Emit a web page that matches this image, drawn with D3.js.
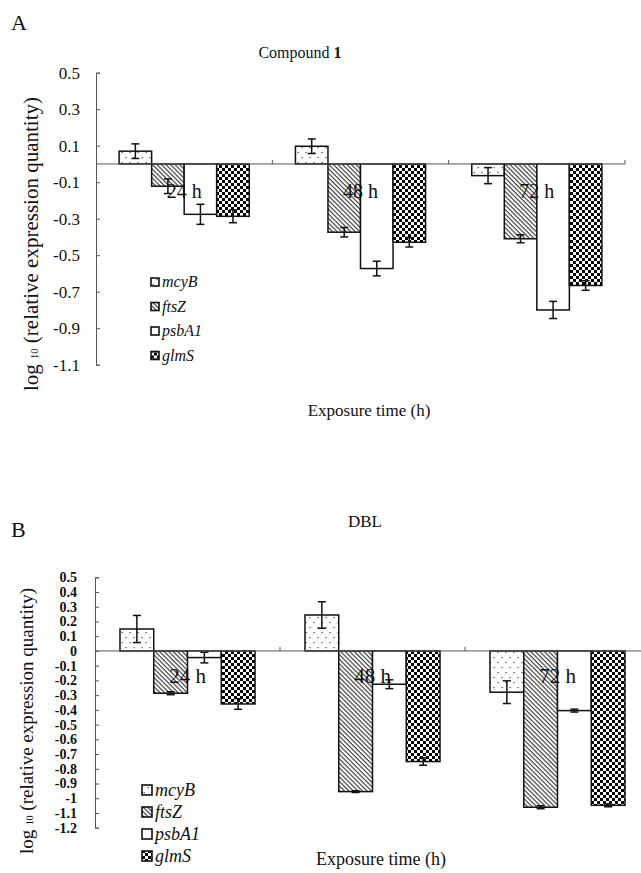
<!DOCTYPE html>
<html>
<head>
<meta charset="utf-8">
<script src="https://cdn.jsdelivr.net/npm/d3@7"></script>
<style>
  body { margin: 0; background: #fff; }
  text { font-family: "Liberation Serif", "Times New Roman", serif; fill: #111; }
</style>
</head>
<body>
<div id="chart"></div>
<script>
// categories
const genes = ["mcyB", "ftsZ", "psbA1", "glmS"];
const times = ["24 h", "48 h", "72 h"];

// Compound 1 : rows = genes, columns = times
const compoundMean = [
    [0.07, 0.097, -0.064],
    [-0.122, -0.374, -0.41],
    [-0.276, -0.573, -0.80],
    [-0.287, -0.429, -0.666]
];
const compoundErr = [
    [0.04, 0.04, 0.044],
    [0.04, 0.026, 0.022],
    [0.055, 0.04, 0.047],
    [0.035, 0.026, 0.026]
];

// DBL
const dblMean = [
    [0.149, 0.244, -0.28],
    [-0.287, -0.955, -1.061],
    [-0.045, -0.226, -0.405],
    [-0.36, -0.751, -1.048]
];
const dblErr = [
    [0.092, 0.09, 0.077],
    [0.01, 0.006, 0.01],
    [0.036, 0.03, 0.01],
    [0.036, 0.025, 0.01]
];

// tick labels
const ticksA = [0.5, 0.3, 0.1, -0.1, -0.3, -0.5, -0.7, -0.9, -1.1];
const ticksB = [0.5, 0.4, 0.3, 0.2, 0.1, 0, -0.1, -0.2, -0.3, -0.4, -0.5, -0.6,
    -0.7, -0.8, -0.9, -1, -1.1, -1.2];

const W = 641, H = 873;
const svg = d3.select("#chart").append("svg")
    .attr("width", W)
    .attr("height", H);
svg.append("rect").attr("width", W).attr("height", H).attr("fill", "#fff");

// PATTERNS
const defs = svg.append("defs");

const dots = defs.append("pattern")
    .attr("id", "pat-mcyB")
    .attr("patternUnits", "userSpaceOnUse")
    .attr("width", 8).attr("height", 10);
dots.append("rect").attr("width", 8).attr("height", 10).attr("fill", "#fff");
dots.append("rect").attr("x", 1.5).attr("y", 2).attr("width", 1.2).attr("height", 1.2).attr("fill", "#444");
dots.append("rect").attr("x", 5.5).attr("y", 7).attr("width", 1.2).attr("height", 1.2).attr("fill", "#444");

const hatch = defs.append("pattern")
    .attr("id", "pat-ftsZ")
    .attr("patternUnits", "userSpaceOnUse")
    .attr("width", 3.2).attr("height", 3.2)
    .attr("patternTransform", "rotate(-45)");
hatch.append("rect").attr("width", 3.2).attr("height", 3.2).attr("fill", "#fff");
hatch.append("line").attr("x1", 1).attr("x2", 1).attr("y1", 0).attr("y2", 3.2)
    .attr("stroke", "#333").attr("stroke-width", 1.1);

const plain = defs.append("pattern")
    .attr("id", "pat-psbA1")
    .attr("patternUnits", "userSpaceOnUse")
    .attr("width", 4).attr("height", 4);
plain.append("rect").attr("width", 4).attr("height", 4).attr("fill", "#fff");

const checker = defs.append("pattern")
    .attr("id", "pat-glmS")
    .attr("patternUnits", "userSpaceOnUse")
    .attr("width", 6).attr("height", 6);
checker.append("rect").attr("width", 6).attr("height", 6).attr("fill", "#fff");
checker.append("rect").attr("width", 3).attr("height", 3).attr("fill", "#000");
checker.append("rect").attr("x", 3).attr("y", 3).attr("width", 3).attr("height", 3).attr("fill", "#000");

function fmt(d) {
    return String(Math.round(d * 10) / 10);
}

function drawPanel(p) {
    const g = svg.append("g");

    const y = d3.scaleLinear().domain(p.yDomain).range(p.yRange);
    const x0 = d3.scaleBand().domain(times).range(p.xRange).paddingInner(0).paddingOuter(0);
    const x1 = d3.scaleBand().domain(genes).range([0, x0.bandwidth()])
        .paddingInner(0).paddingOuter(p.groupPad);

    // letter + title
    g.append("text").text(p.letter)
        .attr("x", 11).attr("y", p.letterY)
        .style("font-size", "22px");
    const title = g.append("text").text(p.title)
        .attr("x", p.titleX).attr("y", p.titleY)
        .attr("text-anchor", "middle")
        .style("font-size", p.titleSize + "px");
    if (p.titleBold) {
        title.append("tspan").text(p.titleBold).style("font-weight", "bold");
    }

    // BARS
    const rows = [];
    genes.forEach((gene, gi) => {
        times.forEach((t, ti) => {
            rows.push({ gene: gene, time: t, v: p.mean[gi][ti], e: p.err[gi][ti] });
        });
    });

    g.selectAll(".bar").data(rows).enter()
        .append("rect")
        .attr("class", "bar")
        .attr("x", d => x0(d.time) + x1(d.gene))
        .attr("y", d => y(Math.max(0, d.v)))
        .attr("width", x1.bandwidth())
        .attr("height", d => Math.abs(y(d.v) - y(0)))
        .attr("fill", d => "url(#pat-" + d.gene + ")")
        .attr("stroke", "#111")
        .attr("stroke-width", 1.5);

    // ERROR BARS
    const eb = g.selectAll(".err").data(rows).enter()
        .append("g").attr("class", "err")
        .attr("transform", d => "translate(" + (x0(d.time) + x1(d.gene) + x1.bandwidth() / 2) + ",0)");
    eb.append("line")
        .attr("y1", d => y(d.v + d.e)).attr("y2", d => y(d.v - d.e))
        .attr("stroke", "#111").attr("stroke-width", 1.5);
    eb.append("line")
        .attr("x1", -4).attr("x2", 4)
        .attr("y1", d => y(d.v + d.e)).attr("y2", d => y(d.v + d.e))
        .attr("stroke", "#111").attr("stroke-width", 1.5);
    eb.append("line")
        .attr("x1", -4).attr("x2", 4)
        .attr("y1", d => y(d.v - d.e)).attr("y2", d => y(d.v - d.e))
        .attr("stroke", "#111").attr("stroke-width", 1.5);

    // zero line + category ticks
    g.append("line")
        .attr("x1", p.xRange[0]).attr("x2", p.xRange[1])
        .attr("y1", y(0)).attr("y2", y(0))
        .attr("stroke", "#555").attr("stroke-width", 1);
    g.selectAll(".ctick").data(times).enter()
        .append("line")
        .attr("x1", d => x0(d) + x0.bandwidth()).attr("x2", d => x0(d) + x0.bandwidth())
        .attr("y1", y(0)).attr("y2", y(0) - 4)
        .attr("stroke", "#555");

    // group labels
    g.selectAll(".glabel").data(times).enter()
        .append("text")
        .attr("x", d => x0(d) + x0.bandwidth() / 2)
        .attr("y", y(0) + p.labelDy)
        .attr("text-anchor", "middle")
        .style("font-size", p.labelSize + "px")
        .text(d => d);

    // Y AXIS
    const yAxis = g.append("g")
        .attr("transform", "translate(" + p.xRange[0] + ",0)")
        .call(d3.axisLeft(y).tickValues(p.ticks).tickFormat(fmt)
            .tickSizeInner(-4).tickSizeOuter(-4).tickPadding(p.tickPad));
    yAxis.select(".domain").attr("stroke", "#555");
    yAxis.selectAll(".tick line").attr("stroke", "#555");
    yAxis.selectAll(".tick text")
        .style("font-family", "'Liberation Serif', 'Times New Roman', serif")
        .style("font-size", p.tickSize + "px")
        .style("font-weight", p.tickWeight)
        .attr("fill", "#111");

    // Y LABEL
    const yl = g.append("text")
        .attr("transform", "translate(" + p.ylabX + "," + p.ylabY + ") rotate(-90)")
        .attr("text-anchor", "middle")
        .style("font-size", p.ylabSize + "px");
    yl.append("tspan").text("log ");
    yl.append("tspan").text("10").style("font-size", (p.ylabSize * 0.5) + "px");
    yl.append("tspan").text(" (relative expression quantity)");

    // X LABEL
    g.append("text").text("Exposure time (h)")
        .attr("x", p.xlabX).attr("y", p.xlabY)
        .attr("text-anchor", "middle")
        .style("font-size", p.xlabSize + "px");

    // LEGEND
    const leg = g.selectAll(".leg").data(genes).enter()
        .append("g")
        .attr("transform", (d, i) => "translate(" + p.legX + "," + (p.legY + i * p.legStep) + ")");
    leg.append("rect")
        .attr("x", 0).attr("y", -p.legBox / 2)
        .attr("width", p.legBox).attr("height", p.legBox)
        .attr("fill", d => "url(#pat-" + d + ")")
        .attr("stroke", "#111").attr("stroke-width", 1.6);
    leg.append("text")
        .attr("x", p.legBox + 3).attr("y", p.legSize * 0.33)
        .style("font-size", p.legSize + "px")
        .style("font-style", "italic")
        .text(d => d);

    return g;
}

// Panel A
drawPanel({
    letter: "A", letterY: 30,
    title: "Compound ", titleBold: "1", titleX: 300, titleY: 58, titleSize: 16,
    yDomain: [0.5, -1.1], yRange: [72.7, 364.7], xRange: [96, 625],
    groupPad: 0.71, ticks: ticksA, tickPad: 16, tickSize: 17, tickWeight: "normal",
    mean: compoundMean, err: compoundErr,
    labelDy: 34, labelSize: 20,
    ylabX: 38, ylabY: 244, ylabSize: 21,
    xlabX: 369, xlabY: 416, xlabSize: 17,
    legX: 151, legY: 282, legStep: 24.5, legBox: 8, legSize: 16
});

// Panel B
drawPanel({
    letter: "B", letterY: 537,
    title: "DBL", titleX: 365, titleY: 527, titleSize: 17,
    yDomain: [0.5, -1.2], yRange: [577.3, 827.7], xRange: [95, 650],
    groupPad: 0.74, ticks: ticksB, tickPad: 18, tickSize: 14, tickWeight: "bold",
    mean: dblMean, err: dblErr,
    labelDy: 32, labelSize: 21,
    ylabX: 33, ylabY: 721, ylabSize: 19,
    xlabX: 381, xlabY: 865, xlabSize: 18,
    legX: 142, legY: 790, legStep: 22, legBox: 10, legSize: 18
});
</script>
</body>
</html>
